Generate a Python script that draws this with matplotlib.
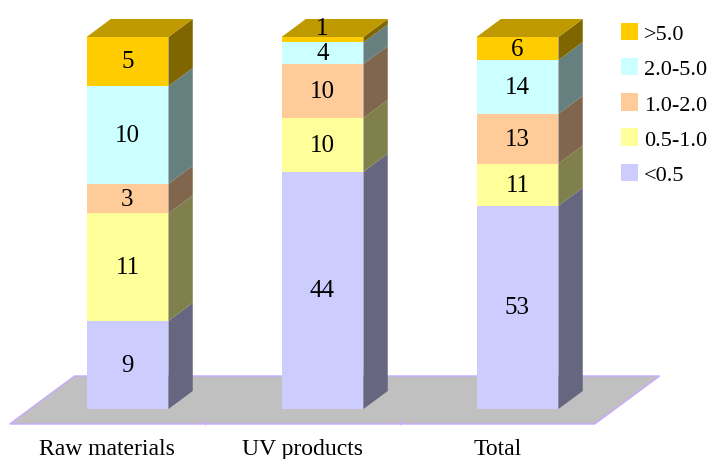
import numpy as np
import matplotlib
matplotlib.use("Agg")
import matplotlib.pyplot as plt
from matplotlib.patches import Polygon, Patch
from matplotlib.transforms import IdentityTransform
from matplotlib.colors import to_rgb

plt.rcParams['font.family'] = ['Liberation Serif', 'DejaVu Serif']

categories = ['Raw materials', 'UV products', 'Total']
ranges = ['<0.5', '0.5-1.0', '1.0-2.0', '2.0-5.0', '>5.0']
lt_05 = [9, 44, 53]
r05_10 = [11, 10, 11]
r10_20 = [3, 10, 13]
r20_50 = [10, 4, 14]
gt_50 = [5, 1, 6]
colors = ['#CCCCFF', '#FFFF99', '#FFCC99', '#CCFFFF', '#FFCC00']

counts = np.array([lt_05, r05_10, r10_20, r20_50, gt_50], dtype=float)
pct = counts / counts.sum(axis=0) * 100

# oblique projection of the depth axis, in pixels
DX, DY = 1.35, 1.0
BAR_DEPTH = 18
FLOOR_FRONT, FLOOR_BACK = -15, 33
width = 0.42

fig = plt.figure(figsize=(7.1, 4.6), dpi=100)
ax = fig.add_axes([30 / 710, 50 / 460, 585 / 710, 372 / 460])
ax.set_xlim(-0.5, 2.5)
ax.set_ylim(0, 100)
ax.axis('off')
x = np.arange(len(categories))


def proj(xv, yv, depth):
    px, py = ax.transData.transform((xv, yv))
    return (px + depth * DX, py + depth * DY)


def shade(c, f):
    return tuple(v * f for v in to_rgb(c))


def add_poly(pts, color, z, ec='none', lw=0):
    ax.add_patch(Polygon(pts, closed=True, facecolor=color, edgecolor=ec, lw=lw,
                         transform=IdentityTransform(), clip_on=False, zorder=z))


# floor
x0, x1 = ax.get_xlim()
floor = [proj(x0, 0, FLOOR_FRONT), proj(x1, 0, FLOOR_FRONT),
         proj(x1, 0, FLOOR_BACK), proj(x0, 0, FLOOR_BACK)]
add_poly(floor, '#C0C0C0', 0, ec='#C8A8FF', lw=1)
for b in [0.5, 1.5]:
    fx, fy = proj(b, 0, FLOOR_FRONT)
    ax.add_line(plt.Line2D([fx, fx], [fy, fy + 4], color='#C8A8FF', lw=1,
                           transform=IdentityTransform(), clip_on=False, zorder=1))

# stacked bars: front faces from ax.bar, sides and tops as projected polygons
bottom = np.zeros(len(categories))
for i, rng in enumerate(ranges):
    bars = ax.bar(x, pct[i], width, bottom=bottom, color=colors[i], zorder=3, label=rng)
    for j, r in enumerate(bars):
        xr = r.get_x() + r.get_width()
        y0, y1 = r.get_y(), r.get_y() + r.get_height()
        add_poly([proj(xr, y0, 0), proj(xr, y1, 0), proj(xr, y1, BAR_DEPTH),
                  proj(xr, y0, BAR_DEPTH)], shade(colors[i], 0.5), 2)
        if i == len(ranges) - 1:
            xl = r.get_x()
            add_poly([proj(xl, y1, 0), proj(xr, y1, 0), proj(xr, y1, BAR_DEPTH),
                      proj(xl, y1, BAR_DEPTH)], shade(colors[i], 0.75), 2)
        ymid = y0 + (y1 - y0) / 2
        nudge = 12 if (y1 - y0) < 3 else 0
        ax.annotate(f'{int(counts[i, j])}', (x[j], ymid), xytext=(0, nudge),
                    textcoords='offset pixels', ha='center', va='center',
                    fontsize=18, zorder=5)
    bottom += pct[i]

# category labels along the front edge of the floor
for j, cat in enumerate(categories):
    px, py = proj(x[j], 0, FLOOR_FRONT)
    fig.text(px / fig.dpi / 7.1, (py - 14) / fig.dpi / 4.6, cat, ha='center', va='top',
             fontsize=17)

handles = [Patch(facecolor=c, edgecolor='none') for c in colors][::-1]
fig.legend(handles, ranges[::-1], loc='upper left',
           bbox_to_anchor=(621 / 710, 1 - 24 / 460), frameon=False, fontsize=16,
           borderpad=0, borderaxespad=0, handlelength=0.75, handleheight=0.82,
           handletextpad=0.27, labelspacing=0.62)

fig.savefig('out.png', dpi=100)
